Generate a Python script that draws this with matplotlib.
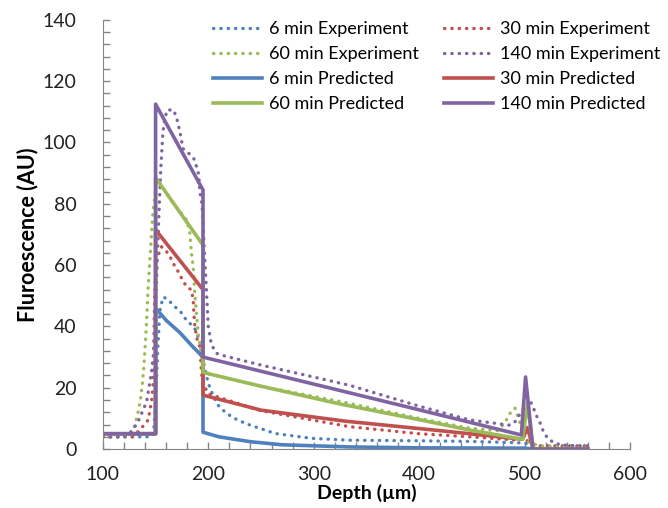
# Fluorescence depth profiles: experiment vs predicted

import numpy as np
import matplotlib.pyplot as plt
from matplotlib.ticker import MultipleLocator

# Experimental profiles (dotted)
x_exp6 = [100, 145, 148, 150, 152, 154, 157, 160, 165, 170, 175, 179, 184, 187, 189, 194, 195,
          200, 205, 209, 217, 225, 235, 244, 254, 263, 274, 287, 298, 334, 400, 448, 500, 510, 560]
y_exp6 = [4, 4, 5, 15, 32, 45, 49.5, 49.2, 47.6, 45.9, 44.3, 42.1, 40.5, 39.4, 37.8, 33.4, 29,
          21.4, 17.1, 14.4, 11.7, 10, 8.4, 7.3, 6.2, 5.1, 4.6, 4, 3.5, 2.9, 2.7, 2.5, 2, 1, 1]

x_exp30 = [100, 128, 135, 143, 144.6, 146.2, 147.7, 148.2, 148.7, 149.3, 151, 155.7, 160.4, 163.6,
           166.7, 171.4, 174.7, 179.3, 184, 185.7, 186.3, 187.3, 189.5, 192, 193.6, 195, 200,
           250, 334, 400, 448, 490, 500, 505, 515, 560]
y_exp30 = [4, 4, 6.2, 9.5, 12.7, 15.4, 21.4, 26.9, 42, 53, 62, 66, 64.4, 62.8,
           60.6, 57.9, 55.7, 53, 51.9, 48.6, 44.3, 39.9, 35.6, 33.4, 24.7, 21.4, 18,
           12.5, 7.3, 5, 4, 3, 3.5, 2, 1, 1]

x_exp60 = [100, 122, 129, 132, 134.2, 135.8, 137.7, 139, 140, 141.5, 143, 144.6, 146.2, 147.7,
           149.3, 151, 165, 180, 182.5, 184, 185.7, 187.3, 190.4, 192, 193.6, 195, 200, 250,
           330, 400, 448, 475, 482, 488, 491, 494, 497, 500, 505, 515, 560]
y_exp60 = [4, 4, 6.4, 10, 13.3, 16.5, 22, 27.4, 33, 42, 53, 61.7, 70.4, 78,
           82, 88.5, 81, 74.5, 70.4, 64, 59.5, 50, 37.8, 34.5, 30.1, 25.2, 24.5, 20.5,
           15.2, 10, 6.8, 6, 9, 12.7, 13.3, 10.5, 7, 4, 2, 1, 1]

x_exp140 = [100, 120, 128, 133.5, 141.5, 146, 148, 151, 153, 155, 156, 157, 159, 161, 167, 170,
            173, 176, 183, 186, 189, 191, 192, 194, 197, 200, 203, 208, 214, 250, 300, 334,
            400, 448, 486, 491, 496, 505, 508, 511, 515, 518, 522, 529, 540, 560]
y_exp140 = [4, 4, 6, 9, 15.4, 24.7, 31, 55, 75, 92, 97.6, 103.6, 108, 110.6, 110.6, 108,
            103.6, 98, 96, 95, 92, 89.4, 84, 80, 60, 40, 34, 31.2, 30.5, 27.4, 23.5, 20.8,
            14, 9.5, 7.8, 8.9, 11.6, 16, 13.8, 11.1, 8.4, 5.6, 3.5, 1.8, 1.2, 1]

# Predicted profiles (solid)
x_pre6 = [100, 150, 150, 160, 173, 185, 195, 195, 210, 240, 270, 334, 400, 500, 508, 560]
y_pre6 = [5, 5, 46, 42, 38, 33.5, 30, 5.5, 4, 2.4, 1.4, 0.7, 0.4, 0.3, 0, 0]

x_pre30 = [100, 150, 150, 195, 195, 250, 330, 420, 498, 503, 508, 560]
y_pre30 = [5, 5, 71.5, 52, 17.6, 12.7, 9.1, 6, 3.2, 7, 0, 0]

x_pre60 = [100, 150, 150, 195, 195, 250, 325, 400, 448, 498, 503, 508, 560]
y_pre60 = [5, 5, 88.5, 66.5, 25, 20.5, 14.7, 9.6, 6.2, 3.2, 15, 0, 0]

x_pre140 = [100, 150, 150, 195, 195, 300, 400, 497, 501, 508, 560]
y_pre140 = [5, 5, 112.5, 84.5, 30, 21.2, 12.8, 4.6, 23.5, 0, 0]

blue, red, green, purple = '#4F81BD', '#C0504D', '#9BBB59', '#8064A2'

plt.rcParams['font.family'] = ['Lato', 'DejaVu Sans']

fig = plt.figure(figsize=(6.68, 5.08), dpi=100)
ax = fig.add_axes([0.154, 0.116, 0.789, 0.845])

dot = dict(linestyle=(0, (0.1, 2.1)), linewidth=2.4, dash_capstyle='round')
sol = dict(linestyle='-', linewidth=2.6)

l1, = ax.plot(x_exp6, y_exp6, color=blue, label='6 min Experiment', **dot)
l2, = ax.plot(x_exp30, y_exp30, color=red, label='30 min Experiment', **dot)
l3, = ax.plot(x_exp60, y_exp60, color=green, label='60 min Experiment', **dot)
l4, = ax.plot(x_exp140, y_exp140, color=purple, label='140 min Experiment', **dot)
l5, = ax.plot(x_pre6, y_pre6, color=blue, label='6 min Predicted', **sol)
l6, = ax.plot(x_pre30, y_pre30, color=red, label='30 min Predicted', **sol)
l7, = ax.plot(x_pre60, y_pre60, color=green, label='60 min Predicted', **sol)
l8, = ax.plot(x_pre140, y_pre140, color=purple, label='140 min Predicted', **sol)

ax.set_xlim(100, 600)
ax.set_ylim(0, 140)
ax.xaxis.set_major_locator(MultipleLocator(100))
ax.xaxis.set_minor_locator(MultipleLocator(20))
ax.yaxis.set_major_locator(MultipleLocator(20))
ax.yaxis.set_minor_locator(MultipleLocator(4))
ax.tick_params(which='both', direction='in', length=5, color='#868686', width=1)
ax.tick_params(labelsize=14, colors='#868686', labelcolor='#222222')
ax.tick_params(axis='x', pad=12)
ax.tick_params(axis='y', pad=19)
for s in ['top', 'right']:
    ax.spines[s].set_visible(False)
for s in ['left', 'bottom']:
    ax.spines[s].set_color('#868686')

ax.set_xlabel('Depth (µm)', fontsize=14, fontweight='bold', labelpad=1)
ax.set_ylabel('Fluroescence (AU)', fontsize=15.5, fontweight='bold', labelpad=3)

handles = [l1, l3, l5, l7, l2, l4, l6, l8]
fig.legend(handles=handles, ncol=2, frameon=False, fontsize=13,
           loc='upper left', bbox_to_anchor=(0.295, 0.99),
           handlelength=2.7, handletextpad=0.4, columnspacing=1.4, labelspacing=0.5)

plt.savefig('out.png', dpi=100)
